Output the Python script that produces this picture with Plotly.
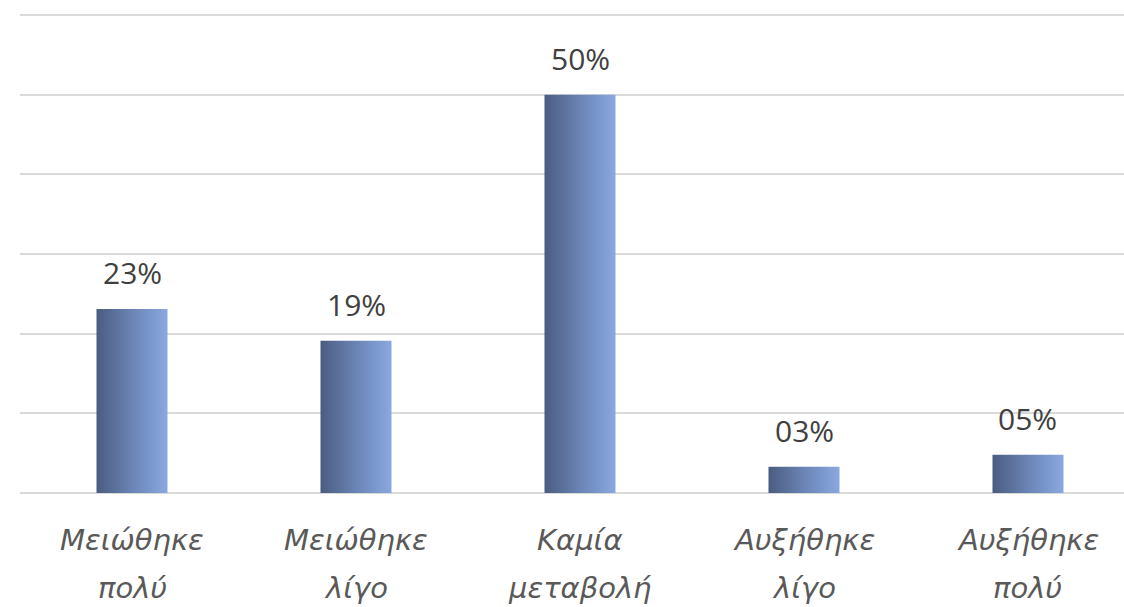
import plotly.graph_objects as go

categories = ["Μειώθηκε<br>πολύ", "Μειώθηκε<br>λίγο", "Καμία<br>μεταβολή", "Αυξήθηκε<br>λίγο", "Αυξήθηκε<br>πολύ"]
values = [23.1, 19.1, 50.0, 3.3, 4.8]
value_labels = ["23%", "19%", "50%", "03%", "05%"]

BAR_W = 0.317
grad = [[0, "#4a5d80"], [0.5, "#6a84b5"], [1, "#8aa9e0"]]

fig = go.Figure()
for i, v in enumerate(values):
    x0, x1 = i - BAR_W / 2, i + BAR_W / 2
    fig.add_trace(go.Scatter(
        x=[x0, x1, x1, x0, x0], y=[0, 0, v, v, 0],
        mode="lines", line=dict(width=0), fill="toself",
        fillgradient=dict(type="horizontal", colorscale=grad),
        hoverinfo="skip", showlegend=False,
    ))
    fig.add_annotation(x=i, y=v, xref="x", yref="y", text=value_labels[i],
                       showarrow=False, yanchor="bottom", yshift=14,
                       font=dict(family="Open Sans", size=30, color="#404040"))
    lines = categories[i].split("<br>")
    for k, t in enumerate(lines):
        fig.add_annotation(x=i, y=0, xref="x", yref="y", text=t, showarrow=False,
                           yanchor="middle", yshift=-47 - 48 * k,
                           font=dict(family="DejaVu Sans", size=29, color="#595959",
                                     style="italic"))

fig.update_layout(
    width=1124, height=607,
    margin=dict(l=20, r=0, t=13, b=114),
    paper_bgcolor="white", plot_bgcolor="white",
    xaxis=dict(range=[-0.5, 4.4286], showticklabels=False, showgrid=False,
               zeroline=False, tickvals=list(range(5))),
    yaxis=dict(range=[0, 60.25], dtick=10, showticklabels=False, showgrid=True,
               gridcolor="#d9d9d9", gridwidth=2, zeroline=True,
               zerolinecolor="#d9d9d9", zerolinewidth=2),
)
fig.write_html("out.html", config={"displayModeBar": False})
with open("out.html", encoding="utf-8") as f:
    html = f.read()
html = html.replace("<body>", "<body style=\"margin:0;padding:0;overflow:hidden\">", 1)
with open("out.html", "w", encoding="utf-8") as f:
    f.write(html)
